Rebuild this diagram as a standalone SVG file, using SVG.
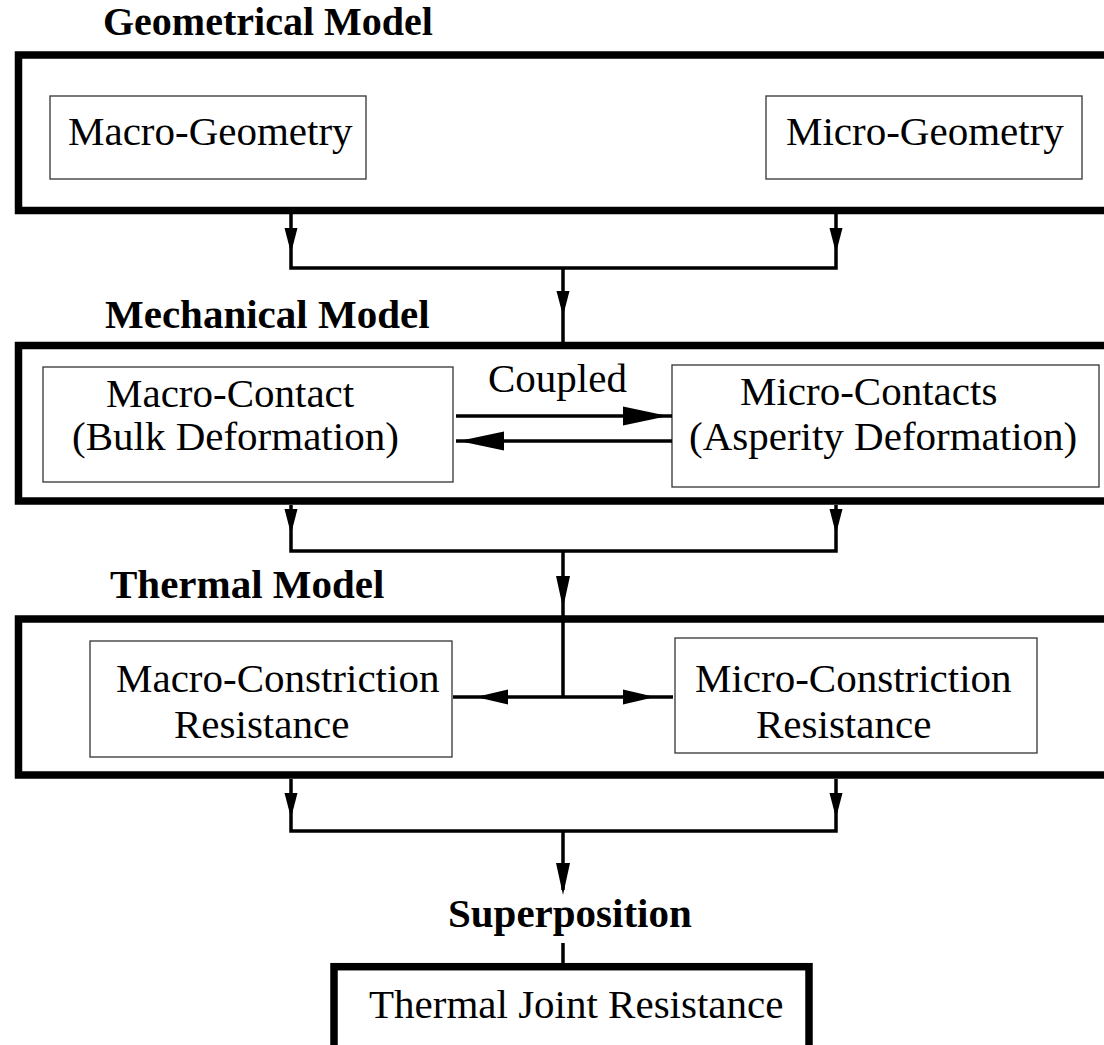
<svg xmlns="http://www.w3.org/2000/svg" xmlns:xlink="http://www.w3.org/1999/xlink" width="1104" height="1045" viewBox="0 0 1104 1045">
<style>
  .outer { fill: none; stroke: #000; stroke-width: 7.5; }
  .inner { fill: #fff; stroke: #333; stroke-width: 1.3; }
  .conn { fill: none; stroke: #000; stroke-width: 3.5; }
  .head { fill: #000; stroke: none; }
  .lbl { font-family: "Liberation Serif", "Times New Roman", serif; font-size: 41px; fill: #000; }
  .ttl { font-family: "Liberation Serif", "Times New Roman", serif; font-size: 41px; font-weight: bold; fill: #000; }
</style>
<defs>
  <path id="adn" class="head" d="M0,0 L-6.5,-25 L6.5,-25 Z"/>
  <path id="adnL" class="head" d="M0,0 L-7,-32 L7,-32 Z"/>
  <path id="ar" class="head" d="M0,0 L-45,-9.5 L-45,9.5 Z"/>
  <path id="arS" class="head" d="M0,0 L-32,-7.5 L-32,7.5 Z"/>
</defs>
<rect width="1104" height="1045" fill="#fff"/>

<g id="geometrical-model">
  <text class="ttl" x="103" y="35" style="font-size:40px">Geometrical Model</text>
  <rect class="outer" x="18.5" y="55" width="1100" height="155.5"/>
</g>
<g id="macro-geometry">
  <rect class="inner" x="50" y="96" width="316" height="83"/>
  <text class="lbl" x="68" y="145">Macro-Geometry</text>
</g>
<g id="micro-geometry">
  <rect class="inner" x="766" y="96" width="316" height="83"/>
  <text class="lbl" x="786" y="145">Micro-Geometry</text>
</g>

<g id="mechanical-model">
  <text class="ttl" x="105" y="328">Mechanical Model</text>
  <rect class="outer" x="18.5" y="345.5" width="1100" height="155.5"/>
</g>
<g id="macro-contact">
  <rect class="inner" x="43" y="367" width="410" height="115"/>
  <text class="lbl" x="106" y="407">Macro-Contact</text>
  <text class="lbl" x="72" y="450">(Bulk Deformation)</text>
</g>
<g id="micro-contacts">
  <rect class="inner" x="672" y="365" width="427" height="122"/>
  <text class="lbl" x="740" y="405">Micro-Contacts</text>
  <text class="lbl" x="689" y="450">(Asperity Deformation)</text>
</g>

<g id="thermal-model">
  <text class="ttl" x="110" y="598">Thermal Model</text>
  <rect class="outer" x="18.5" y="619" width="1100" height="156"/>
</g>
<g id="macro-constriction">
  <rect class="inner" x="90" y="641" width="362" height="116"/>
  <text class="lbl" x="116" y="692">Macro-Constriction</text>
  <text class="lbl" x="174" y="738">Resistance</text>
</g>
<g id="micro-constriction">
  <rect class="inner" x="675" y="638" width="362" height="115"/>
  <text class="lbl" x="695" y="692">Micro-Constriction</text>
  <text class="lbl" x="756" y="738">Resistance</text>
</g>

<g id="superposition">
  <text class="ttl" x="448" y="927">Superposition</text>
</g>
<g id="thermal-joint-resistance">
  <rect class="outer" x="334" y="966.7" width="475" height="120"/>
  <text class="lbl" x="369" y="1018">Thermal Joint Resistance</text>
</g>

<g id="connectors">
  <path class="conn" d="M291,214 V268 H836 V214"/>
  <path class="conn" d="M563,268 V342"/>
  <use xlink:href="#adn" x="291" y="253"/>
  <use xlink:href="#adn" x="836" y="253"/>
  <use xlink:href="#adn" x="563" y="316"/>

  <text class="lbl" x="488" y="392">Coupled</text>
  <path class="conn" d="M456,416 H672"/>
  <path class="conn" d="M456,441 H672"/>
  <use xlink:href="#ar" transform="translate(668,416)"/>
  <use xlink:href="#ar" transform="translate(459,441) rotate(180)"/>

  <path class="conn" d="M291,505 V551 H836 V505"/>
  <path class="conn" d="M563,551 V697"/>
  <use xlink:href="#adn" x="291" y="534"/>
  <use xlink:href="#adn" x="836" y="534"/>
  <use xlink:href="#adnL" x="563" y="608"/>

  <path class="conn" d="M453,697 H673"/>
  <use xlink:href="#arS" transform="translate(476,697) rotate(180)"/>
  <use xlink:href="#arS" transform="translate(655,697)"/>

  <path class="conn" d="M291,779 V831 H836 V779"/>
  <path class="conn" d="M563,831 V890"/>
  <use xlink:href="#adn" x="291" y="818"/>
  <use xlink:href="#adn" x="836" y="818"/>
  <use xlink:href="#adnL" x="563" y="895"/>

  <path class="conn" d="M563,943 V964"/>
</g>
</svg>
